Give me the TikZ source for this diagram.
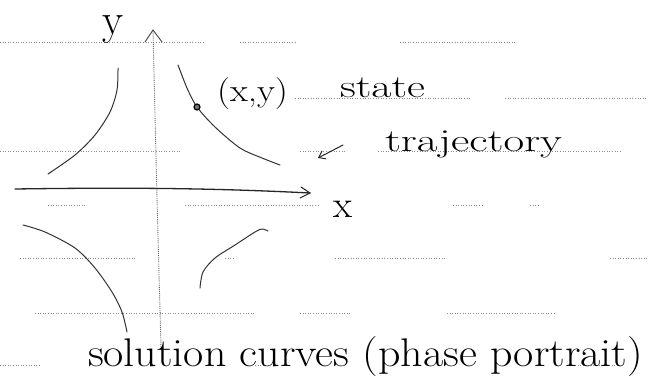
\documentclass[tikz,border=0pt]{standalone}
\usepackage{fontspec}
\usepackage{graphicx}
\usetikzlibrary{arrows.meta}
\begin{document}
\begin{tikzpicture}[x=1pt,y=-1pt,
  rule/.style={black!45, dotted, line width=0.6pt},
  pen/.style={black!80, line width=1pt, line cap=round, line join=round},
  yaxisline/.style={black!60, densely dotted, line width=0.9pt},
  hand/.style={inner sep=0pt, outer sep=0pt, text=black, anchor=base west}]
\useasboundingbox (0,0) rectangle (648,383);
\fill[white] (0,0) rectangle (648,383);
% ruled paper lines
\draw[rule] (0,42) -- (205,42) (240,42) -- (295,42) (400,42) -- (515,42);
\draw[rule] (295,98) -- (470,98) (505,98) -- (648,98);
\draw[rule] (0,151) -- (180,151) (300,151) -- (345,151) (378,151) -- (620,151);
\draw[rule] (48,205) -- (85,205) (185,205) -- (320,205) (453,205) -- (483,205) (530,205) -- (540,205);
\draw[rule] (20,258) -- (135,258) (225,258) -- (235,258) (335,258) -- (445,258) (610,258) -- (648,258);
\draw[rule] (35,313) -- (255,313) (300,313) -- (350,313) (447,313) -- (555,313);
\draw[rule] (0,365) -- (40,365) (255,365) -- (270,365) (570,365) -- (622,365);
% axes
\coordinate (ybot) at (161,347);
\coordinate (ytop) at (153,30);
\coordinate (xleft) at (15,189);
\coordinate (xright) at (310,193);
\draw[yaxisline] (ybot) .. controls (157,200) .. (ytop);
\draw[black!75, line width=0.9pt, line cap=round] (145,42) -- (ytop) -- (162,42);
\draw[black!85, line width=1.3pt, line cap=round] (xleft) .. controls (150,187) and (230,189) .. (xright);
\draw[black!85, line width=1pt, line cap=round] (301,187) -- (xright) -- (300,198);
% solution curves
\draw[pen] plot[smooth] coordinates {(118,68) (117,90) (110,112) (95,135) (75,155) (48,174)};
\draw[pen] plot[smooth] coordinates {(178,65) (187,88) (197,107) (215,127) (240,148) (262,158) (280,165)};
\draw[pen] plot[smooth] coordinates {(23,225) (45,232) (75,248) (95,268) (112,292) (122,312) (127,332)};
\draw[pen] plot[smooth] coordinates {(200,288) (203,272) (215,258) (235,245) (255,232) (262,229) (268,231)};
% state point
\node[circle, draw=black, line width=1.2pt, fill=black!55, minimum size=6pt, inner sep=0pt] (pt) at (197,107) {};
% labels
\node[hand, font=\fontsize{44}{46}\selectfont] (ylab) at (102,34) {\resizebox{21pt}{\height}{y}};
\node[hand, font=\fontsize{32}{34}\selectfont] (xylab) at (217,101) {\resizebox{71pt}{\height}{(x,y)}};
\node[hand, font=\fontsize{32}{34}\selectfont] (statelab) at (340,97) {\resizebox{85pt}{\height}{state}};
\node[hand, font=\fontsize{32}{34}\selectfont] (trajlab) at (385,151) {\resizebox{177pt}{\height}{trajectory}};
\node[hand, font=\fontsize{38}{40}\selectfont] (xlab) at (333,217) {\resizebox{19pt}{\height}{x}};
\node[hand, font=\fontsize{40}{42}\selectfont] (sollab) at (88,366) {\resizebox{555pt}{\height}{solution curves (phase portrait)}};
% pointer arrow
\coordinate (pa) at (343,145);
\coordinate (pb) at (318,158);
\draw[black!85, line width=1pt, line cap=round, -{Straight Barb[length=6pt,width=9pt]}] (pa) -- (pb);
\end{tikzpicture}
\end{document}
